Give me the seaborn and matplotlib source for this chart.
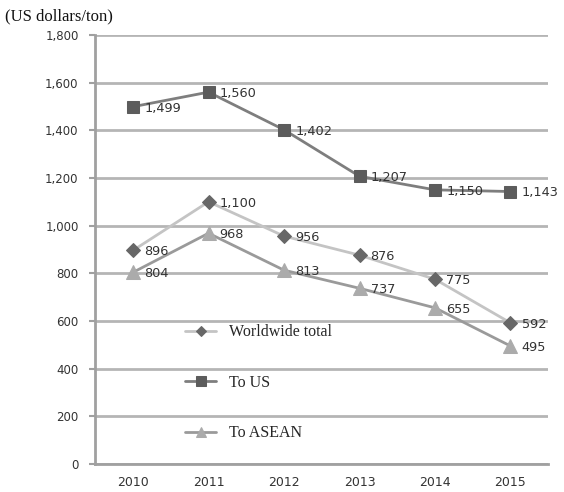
import matplotlib
matplotlib.use("Agg")
import matplotlib.pyplot as plt
import seaborn as sns
import pandas as pd
from matplotlib.ticker import FixedLocator, FuncFormatter

years = ["2010", "2011", "2012", "2013", "2014", "2015"]
worldwide = [896, 1100, 956, 876, 775, 592]
to_us = [1499, 1560, 1402, 1207, 1150, 1143]
to_asean = [804, 968, 813, 737, 655, 495]
series_names = ["Worldwide total", "To US", "To ASEAN"]
y_ticks = [0, 200, 400, 600, 800, 1000, 1200, 1400, 1600, 1800]

sns.set_theme(style="white")
plt.rcParams["font.family"] = ["DejaVu Sans"]

frames = []
for name, vals in zip(series_names, [worldwide, to_us, to_asean]):
    frames.append(pd.DataFrame({"pos": range(len(years)), "value": vals, "series": name}))
df = pd.concat(frames, ignore_index=True)

styles = {
    "Worldwide total": dict(color="#c4c4c4", marker="D", ms=7, mfc="#676767", mec="#676767"),
    "To US": dict(color="#7e7e7e", marker="s", ms=9, mfc="#5c5c5c", mec="#5c5c5c"),
    "To ASEAN": dict(color="#9a9a9a", marker="^", ms=10, mfc="#ababab", mec="#ababab"),
}

fig = plt.figure(figsize=(5.64, 4.92), dpi=100)
ax = fig.add_axes([0.169, 0.057, 0.803, 0.872])

for g in y_ticks:
    ax.axhline(g, color="#b5b5b5", lw=2.0, zorder=0)

for name in series_names:
    st = styles[name]
    sub = df[df["series"] == name]
    sns.lineplot(data=sub, x="pos", y="value", ax=ax, color=st["color"], lw=2.0,
                 marker=st["marker"], markersize=st["ms"], markerfacecolor=st["mfc"],
                 markeredgecolor=st["mec"], label=name, zorder=3)
    for x, v in zip(sub["pos"], sub["value"]):
        ax.annotate(f"{v:,}", (x, v), xytext=(8, -1), textcoords="offset points",
                    ha="left", va="center", fontsize=9.3, color="#333333", zorder=4)

ax.set_xlim(-0.5, len(years) - 0.5)
ax.set_ylim(0, 1800)
ax.set_xlabel("")
ax.set_ylabel("")

ax.xaxis.set_major_locator(FixedLocator(range(len(years))))
ax.set_xticklabels(years)
ax.xaxis.set_minor_locator(FixedLocator([i + 0.5 for i in range(len(years) - 1)]))
ax.tick_params(axis="x", which="major", length=0, pad=9, labelsize=9, labelcolor="#333333")
ax.tick_params(axis="x", which="minor", length=4, width=1.5, color="#a0a0a0", direction="out")
ax.yaxis.set_major_locator(FixedLocator(y_ticks))
ax.yaxis.set_major_formatter(FuncFormatter(lambda v, p: f"{int(v):,}"))
ax.tick_params(axis="y", length=4, width=1.5, color="#a0a0a0", pad=8, labelsize=8.5,
               labelcolor="#333333", left=True, direction="out")

for s in ["top", "right"]:
    ax.spines[s].set_visible(False)
for s in ["left", "bottom"]:
    ax.spines[s].set_color("#a0a0a0")
    ax.spines[s].set_linewidth(2.0)

leg = ax.legend(loc="upper left", bbox_to_anchor=(0.185, 0.34), frameon=False,
                prop={"family": "Liberation Serif", "size": 11.5}, labelspacing=2.15,
                handlelength=1.9, handletextpad=0.8, markerscale=0.75, borderaxespad=0)

fig.text(0.009, 0.966, "(US dollars/ton)", fontsize=12, family="Liberation Serif",
         color="#111111", ha="left", va="center")

fig.savefig("out.png", dpi=100)
